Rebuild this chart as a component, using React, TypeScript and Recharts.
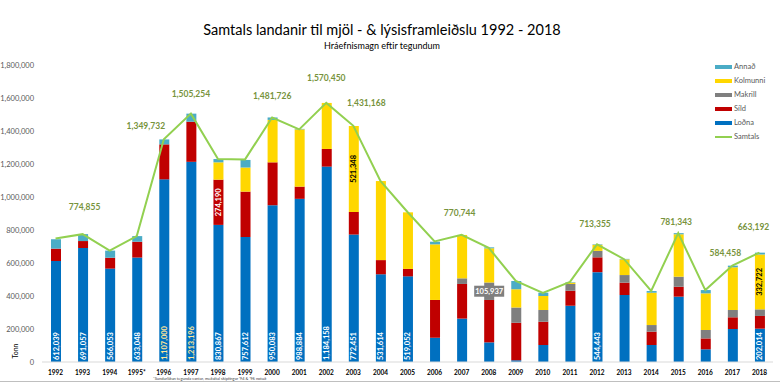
import React from 'react';
import { ComposedChart, Bar, Line, XAxis, YAxis, Legend, LabelList } from 'recharts';

const YEARS = ['1992','1993','1994','1995*','1996','1997','1998','1999','2000','2001','2002','2003','2004','2005','2006','2007','2008','2009','2010','2011','2012','2013','2014','2015','2016','2017','2018'];
const LODNA = [612039, 691057, 566053, 633048, 1107000, 1213196, 830867, 757612, 950083, 988884, 1184158, 772451, 531614, 519052, 147000, 263000, 119000, 10000, 103000, 341000, 544443, 406000, 103000, 396000, 77000, 200000, 202014];
const SILD = [75000, 42000, 66000, 96000, 212000, 243000, 274190, 275000, 260000, 74000, 107000, 137000, 86000, 45000, 229000, 210000, 257000, 228000, 141000, 91000, 90000, 75000, 81000, 60000, 66000, 71000, 77000];
const MAKRILL = [0, 0, 0, 0, 0, 0, 0, 0, 0, 0, 0, 0, 0, 0, 0, 34000, 105937, 93000, 71000, 41000, 39000, 46000, 40000, 61000, 51000, 44000, 40000];
const KOLMUNNI = [0, 0, 0, 0, 0, 0, 105000, 146000, 257000, 347000, 279000, 521348, 479000, 343000, 337000, 263000, 207000, 110000, 85000, 8000, 37000, 95000, 196000, 257000, 222000, 259000, 332722];
const ANNAD = [57000, 42000, 43000, 34000, 30000, 49000, 20000, 46000, 15000, 3000, 0, 0, 0, 0, 16000, 0, 6000, 50000, 20000, 3000, 3000, 3000, 10000, 7000, 20000, 10000, 11000];
const SAMTALS = [748000, 774855, 675000, 763000, 1349732, 1505254, 1230000, 1228000, 1481726, 1410000, 1570450, 1431168, 1097000, 909000, 731000, 770744, 692000, 491000, 418000, 486000, 713355, 623000, 431000, 781343, 436000, 584458, 663192];
const Y_TICKS = [0, 200000, 400000, 600000, 800000, 1000000, 1200000, 1400000, 1600000, 1800000];

const LODNA_LABEL_YEARS = ['1992','1993','1994','1995*','1996','1997','1998','1999','2000','2001','2002','2003','2004','2005','2012','2018'];
const LODNA_CREAM_YEARS = ['1996','1997'];
const SILD_LABEL_YEARS = ['1998'];
const MAKRILL_LABEL_YEARS = ['2008'];
const KOLMUNNI_LABEL_YEARS = ['2003','2018'];
const SAMTALS_LABEL_YEARS = ['1993','1996','1997','2000','2002','2003','2007','2012','2015','2017','2018'];

// style: label shifts (dx, dy) relative to the line point
const TOTAL_LABEL_SHIFT: Record<string, [number, number]> = {
  '1993': [2, -27], '1996': [-18, -13], '1997': [0, -20], '2000': [0, -22], '2002': [0, -25],
  '2003': [13, -23], '2007': [-2, -22], '2012': [-2, -20], '2015': [-2, -11], '2017': [-7, -13], '2018': [-6, -26],
};

const FONT = "Lato, 'Liberation Sans', sans-serif";
const C = { annad: '#4BACC6', kolmunni: '#FFD700', makrill: '#7F7F7F', sild: '#C00000', lodna: '#0070C0', samtals: '#92D050' };

const fmt = (v: number) => v.toLocaleString('en-US');

const data = YEARS.map((year, i) => ({
  year,
  lodna: LODNA[i],
  sild: SILD[i],
  makrill: MAKRILL[i],
  kolmunni: KOLMUNNI[i],
  annad: ANNAD[i],
  samtals: SAMTALS[i],
  lodnaLbl: LODNA_LABEL_YEARS.includes(year) ? LODNA[i] : null,
  sildLbl: SILD_LABEL_YEARS.includes(year) ? SILD[i] : null,
  makrillLbl: MAKRILL_LABEL_YEARS.includes(year) ? MAKRILL[i] : null,
  kolmunniLbl: KOLMUNNI_LABEL_YEARS.includes(year) ? KOLMUNNI[i] : null,
  samtalsLbl: SAMTALS_LABEL_YEARS.includes(year) ? SAMTALS[i] : null,
}));

const LodnaLabel = (props: any) => {
  const { x, y, width, height, value } = props;
  if (value == null) return null;
  const cx = Number(x) + Number(width) / 2;
  const by = Number(y) + Number(height) - 2;
  const year = YEARS[LODNA.indexOf(value)];
  const fill = LODNA_CREAM_YEARS.includes(year) ? '#FFE699' : '#FFFFFF';
  return (
    <text x={cx} y={by} transform={`rotate(-90 ${cx} ${by})`} textAnchor="start" dominantBaseline="central"
      fontFamily={FONT} fontSize={7.5} fontWeight={700} fill={fill}>{fmt(value)}</text>
  );
};

const RotatedCenterLabel = (color: string) => (props: any) => {
  const { x, y, width, height, value } = props;
  if (value == null) return null;
  const cx = Number(x) + Number(width) / 2;
  const cy = Number(y) + Number(height) / 2;
  return (
    <text x={cx} y={cy} transform={`rotate(-90 ${cx} ${cy})`} textAnchor="middle" dominantBaseline="central"
      fontFamily={FONT} fontSize={7.5} fontWeight={700} fill={color}>{fmt(value)}</text>
  );
};

const BoxLabel = (props: any) => {
  const { x, y, width, height, value } = props;
  if (value == null) return null;
  const cx = Number(x) + Number(width) / 2;
  const cy = Number(y) + Number(height) / 2;
  return (
    <g>
      <rect x={cx - 15} y={cy - 5.5} width={30} height={11} fill="#7F7F7F" />
      <text x={cx} y={cy} textAnchor="middle" dominantBaseline="central" fontFamily={FONT} fontSize={7.5} fontWeight={700} fill="#FFFFFF">{fmt(value)}</text>
    </g>
  );
};

const TotalLabel = (props: any) => {
  const { x, y, value } = props;
  if (value == null) return null;
  const year = YEARS[SAMTALS.indexOf(value)];
  const [dx, dy] = TOTAL_LABEL_SHIFT[year] || [0, -20];
  return (
    <text x={Number(x) + dx} y={Number(y) + dy} textAnchor="middle" dominantBaseline="central"
      fontFamily={FONT} fontSize={8.5} fontWeight={700} fill="#77933C">{fmt(value)}</text>
  );
};

const LEGEND_ITEMS = [
  { name: 'Annað', color: C.annad, h: 4 },
  { name: 'Kolmunni', color: C.kolmunni, h: 4 },
  { name: 'Makrill', color: C.makrill, h: 4 },
  { name: 'Síld', color: C.sild, h: 4 },
  { name: 'Loðna', color: C.lodna, h: 4 },
  { name: 'Samtals', color: C.samtals, h: 2 },
];

const renderLegend = () => (
  <div style={{ fontFamily: FONT }}>
    {LEGEND_ITEMS.map((it) => (
      <div key={it.name} style={{ display: 'flex', alignItems: 'center', height: 14 }}>
        <div style={{ width: 17, height: it.h, background: it.color, marginRight: 2 }} />
        <span style={{ fontSize: 7.5, color: '#595959', lineHeight: '14px' }}>{it.name}</span>
      </div>
    ))}
  </div>
);

export default function App() {
  return (
    <div style={{ position: 'absolute', left: 0, top: 0, width: 780, height: 383, background: '#fff', overflow: 'hidden', fontFamily: FONT }}>
      <div style={{ position: 'absolute', left: 0, width: 764, top: 21, textAlign: 'center', fontSize: 14.5, lineHeight: '18px', color: '#000' }}>
        Samtals landanir til mjöl - &amp; lýsisframleiðslu 1992 - 2018
      </div>
      <div style={{ position: 'absolute', left: 0, width: 764, top: 40, textAlign: 'center', fontSize: 9, lineHeight: '11px', color: '#000' }}>
        Hráefnismagn eftir tegundum
      </div>
      <ComposedChart width={780} height={383} data={data} margin={{ top: 65, right: 7, bottom: 0, left: 0 }} barSize={10}>
        <XAxis dataKey="year" interval={0} axisLine={{ stroke: '#D9D9D9' }} tickLine={false} height={21}
          tick={{ fontSize: 6.5, fontWeight: 700, fill: '#000', fontFamily: FONT }} />
        <YAxis width={42} domain={[0, 1800000]} ticks={Y_TICKS} tickFormatter={fmt} axisLine={false} tickLine={false}
          tick={{ fontSize: 7.5, fill: '#595959', fontFamily: FONT }} />
        <Legend layout="vertical" align="center" verticalAlign="middle" content={renderLegend}
          wrapperStyle={{ position: 'absolute', left: 715, top: 60, width: 64, height: 84 }} />
        <Bar dataKey="lodna" name="Loðna" stackId="a" fill={C.lodna} isAnimationActive={false}>
          <LabelList dataKey="lodnaLbl" content={LodnaLabel} />
        </Bar>
        <Bar dataKey="sild" name="Síld" stackId="a" fill={C.sild} isAnimationActive={false}>
          <LabelList dataKey="sildLbl" content={RotatedCenterLabel('#FFFFFF')} />
        </Bar>
        <Bar dataKey="makrill" name="Makrill" stackId="a" fill={C.makrill} isAnimationActive={false}>
          <LabelList dataKey="makrillLbl" content={BoxLabel} />
        </Bar>
        <Bar dataKey="kolmunni" name="Kolmunni" stackId="a" fill={C.kolmunni} isAnimationActive={false}>
          <LabelList dataKey="kolmunniLbl" content={RotatedCenterLabel('#000000')} />
        </Bar>
        <Bar dataKey="annad" name="Annað" stackId="a" fill={C.annad} isAnimationActive={false} />
        <Line dataKey="samtals" name="Samtals" type="linear" stroke={C.samtals} strokeWidth={2} dot={false} isAnimationActive={false}>
          <LabelList dataKey="samtalsLbl" content={TotalLabel} />
        </Line>
      </ComposedChart>
      <div style={{ position: 'absolute', left: 7, top: 343, width: 16, height: 16, display: 'flex', alignItems: 'center', justifyContent: 'center' }}>
        <span style={{ transform: 'rotate(-90deg)', fontSize: 7, color: '#000', whiteSpace: 'nowrap' }}>Tonn</span>
      </div>
      <div style={{ position: 'absolute', left: 153, top: 376, fontSize: 4, lineHeight: '5px', color: '#404040', whiteSpace: 'nowrap' }}>
        *Sundurliðun tegunda vantar, meðaltal skiptingar '94 &amp; '96 notuð
      </div>
      <div style={{ position: 'absolute', left: 0, top: 381, width: 780, height: 1, background: '#BFBFBF' }} />
    </div>
  );
}
